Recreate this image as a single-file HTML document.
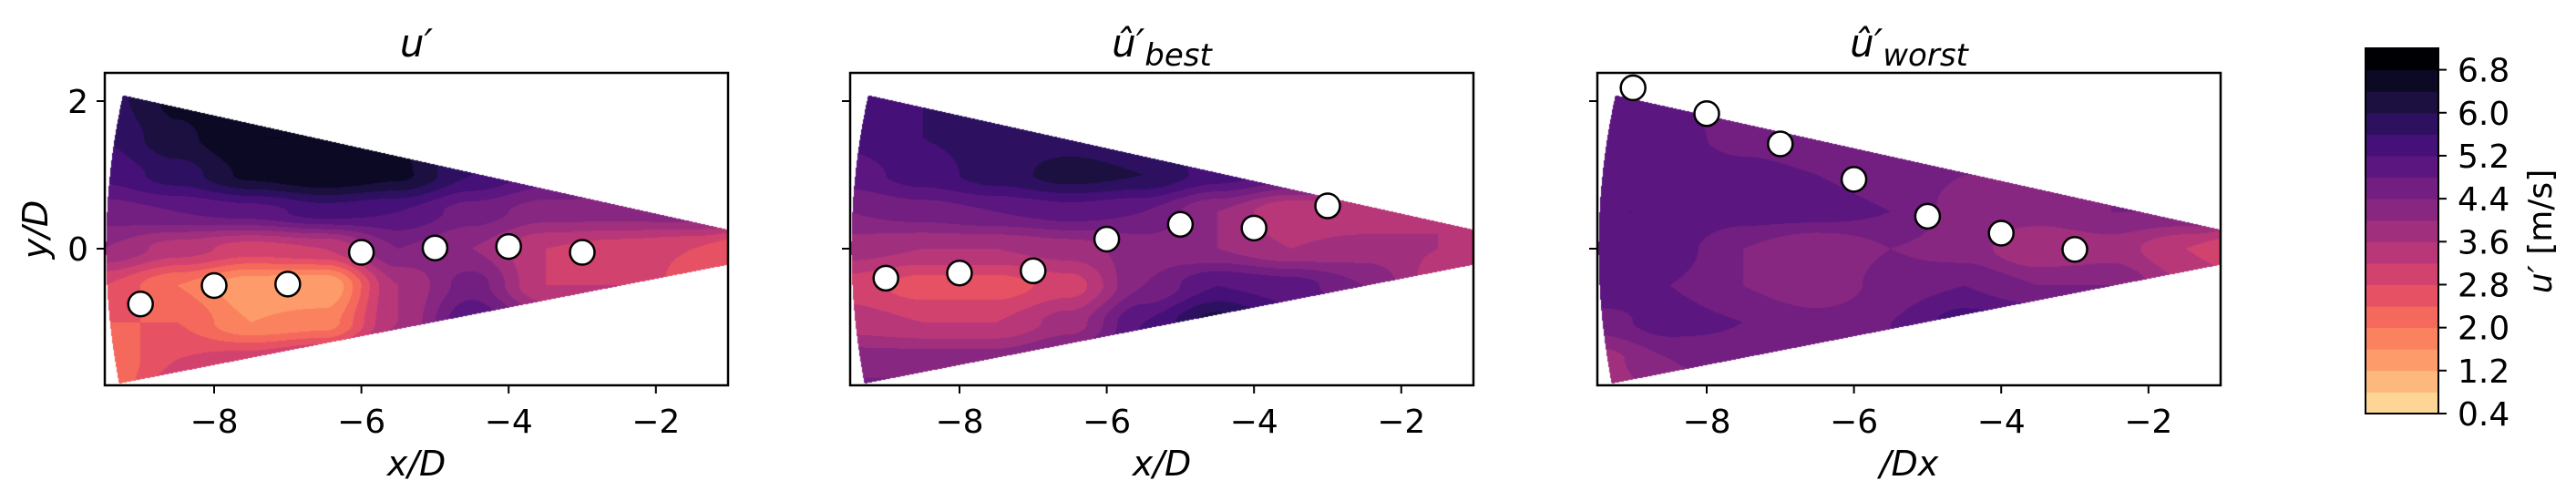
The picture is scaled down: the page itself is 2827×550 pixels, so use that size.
<!DOCTYPE html>
<html><head><meta charset="utf-8"><style>
body{margin:0;background:#fff;}
#root{position:relative;width:2827px;height:550px;overflow:hidden;background:#fff;font-family:"DejaVu Sans","Liberation Sans",sans-serif;}
canvas{position:absolute;}
svg{position:absolute;left:0;top:0;}
</style></head><body>
<div id="root">
<svg id="svg" width="2827" height="550"></svg>
</div>
<script>
// ---- data ----
const gridX = [-9.5,-8.5,-7.5,-6.5,-5.5,-4.5,-3.5,-2.5,-1.5,-0.5];
const gridY = [2,1.5,1,0.5,0,-0.5,-1,-1.5,-2];
const fieldTrue = [
[5.8,6.5,6.8,6.6,6.0,5.5,5,5,5,5],
[5.6,6.3,6.8,6.8,6.4,5.6,5.2,5,5,5],
[5.3,5.8,6.5,6.8,6.5,5.6,5.0,4.8,4.6,4.5],
[4.6,4.8,5.0,5.4,5.2,4.6,4.2,4.2,4.3,4.2],
[4.0,3.4,3.0,3.2,4.4,4.0,3.2,3.0,2.8,2.2],
[2.8,2.0,1.3,1.2,3.6,4.6,3.2,3.2,2.6,2.5],
[2.4,2.4,1.6,1.8,3.6,5.2,4.2,3.8,3.5,3.4],
[2.0,2.8,3.0,3.4,4.2,6.8,5,4.5,4,4],
[2.0,3.2,3.5,3.8,4.4,6,5,5,5,5]];
const fieldBest = [
[5.4,5.6,5.6,5.6,5.4,5.3,5,5,5,5],
[5.3,5.6,5.8,5.8,5.6,5.3,5,5,5,5],
[5.0,5.4,5.8,6.2,6.0,5.4,5.0,4.8,4.6,4.6],
[4.4,4.6,4.8,5.0,4.8,4.0,3.2,3.2,3.6,3.6],
[3.8,3.6,3.6,3.8,4.2,4.0,3.6,3.8,3.6,3.4],
[3.0,2.6,2.6,3.0,4.4,5.2,5.0,4.4,3.4,3.2],
[3.4,3.2,3.2,3.8,5.2,6.2,5.4,5,5,5],
[4.2,4.2,4.2,4.6,5.4,5.6,5.4,5,5,5],
[4.6,4.6,4.6,4.8,5.2,5.4,5.4,5,5,5]];
const fieldWorst = [
[5.0,4.8,4.6,4.4,4.4,4.4,4.4,4.4,4.4,4.4],
[5.0,5.0,4.6,4.4,4.4,4.4,4.4,4.4,4.4,4.4],
[5.1,5.2,5.0,4.8,4.6,4.4,4.4,4.4,4.4,4.4],
[5.2,5.2,5.0,5.0,4.8,4.2,4.2,4.4,4.4,4.4],
[5.2,5.0,4.4,4.0,4.4,4.2,3.6,3.8,3.2,2.6],
[5.2,4.8,4.4,4.0,4.6,4.8,4.4,4.4,3.6,3.2],
[4.6,5.0,4.8,4.6,4.8,5.4,5.2,5,5,5],
[3.8,4.4,4.6,4.6,4.8,5.2,5,5,5,5],
[3.6,4.2,4.6,4.6,4.8,5,5,5,5,5]];
const sensorX = [-9,-8,-7,-6,-5,-4,-3];
const sensorYTrue = [-0.75,-0.5,-0.48,-0.05,0.01,0.03,-0.05];
const sensorYBest = [-0.40,-0.33,-0.30,0.13,0.33,0.28,0.58];
const sensorYWorst = [2.18,1.83,1.42,0.94,0.44,0.21,-0.01];
const xTicks = [-8,-6,-4,-2];
const yTicks = [2,0];
const cbTicks = [0.4,1.2,2.0,2.8,3.6,4.4,5.2,6.0,6.8];
const levels = [0.4,0.8,1.2,1.6,2.0,2.4,2.8,3.2,3.6,4.0,4.4,4.8,5.2,5.6,6.0,6.4,6.8,7.2];
const bandColors = ['#fdd597','#fdb97d','#fd9b6a','#fb825f','#f4695c','#e65164','#d1426f','#b73779','#a0307e','#872781','#721f81','#5c167f','#451077','#2d1160','#1b1040','#0b0924','#000004'];

// ---- layout ----
const NS='http://www.w3.org/2000/svg';
const svg=document.getElementById('svg');
const root=document.getElementById('root');
const offsets=[0,818,1638];
const axTop=80, axBot=423, axL=115, axW=684;
function sx(x,o){return 235+80.8*(x+8)+o;}
function sy(y){return 273-81*y;}
function mk(tag,attrs,parent){const e=document.createElementNS(NS,tag);for(const k in attrs)e.setAttribute(k,attrs[k]);(parent||svg).appendChild(e);return e;}
function hex(c){return [parseInt(c.slice(1,3),16),parseInt(c.slice(3,5),16),parseInt(c.slice(5,7),16)];}
const rgb=bandColors.map(hex);
function interp(F,x,y){
  let fi=(x-gridX[0])/(gridX[1]-gridX[0]); let fj=(gridY[0]-y)/(gridY[0]-gridY[1]);
  fi=Math.max(0,Math.min(gridX.length-1.0001,fi)); fj=Math.max(0,Math.min(gridY.length-1.0001,fj));
  const i=Math.floor(fi),j=Math.floor(fj),a=fi-i,b=fj-j;
  const sa=a*a*(3-2*a), sb=b*b*(3-2*b);
  return (F[j][i]*(1-sa)+F[j][i+1]*sa)*(1-sb)+(F[j+1][i]*(1-sa)+F[j+1][i+1]*sa)*sb;
}
const ax0=0.123, ay0=0.004, R=9.59;
function inside(x,y){
  if(x>=ax0)return false;
  const top=0.26-0.2217*(x+1.03), bot=-0.22+0.1947*(x+1.03);
  if(y>top||y<bot)return false;
  const dx=ax0-x,dy=y-ay0;return dx*dx+dy*dy<=R*R;}

const panels=[
 {F:fieldTrue,S:sensorYTrue,title:'u′',sub:'',xl:'x/D',name:'true'},
 {F:fieldBest,S:sensorYBest,title:'û′',sub:'best',xl:'x/D',name:'best'},
 {F:fieldWorst,S:sensorYWorst,title:'û′',sub:'worst',xl:'/Dx',name:'worst'}];

panels.forEach((p,k)=>{
  const o=offsets[k];
  const cv=document.createElement('canvas');
  cv.width=axW;cv.height=axBot-axTop;
  cv.style.left=(axL+o)+'px';cv.style.top=axTop+'px';
  
  
  root.insertBefore(cv,svg);
  const ctx=cv.getContext('2d');const img=ctx.createImageData(cv.width,cv.height);
  for(let py=0;py<cv.height;py++)for(let px=0;px<cv.width;px++){
    const x=(axL+px+0.5-235)/80.8-8, y=(273-(axTop+py+0.5))/81;
    const idx=(py*cv.width+px)*4;
    if(!inside(x,y)){img.data[idx+3]=0;continue;}
    const v=interp(p.F,x,y);
    let b=Math.floor((v-levels[0])/0.4);b=Math.max(0,Math.min(16,b));
    const c=rgb[b];img.data[idx]=c[0];img.data[idx+1]=c[1];img.data[idx+2]=c[2];img.data[idx+3]=255;
  }
  ctx.putImageData(img,0,0);
  const g=mk('g',{});
  
  
  sensorX.forEach((sxv,i)=>{
    const c=mk('circle',{cx:sx(sxv,o),cy:sy(p.S[i]),r:13.5,fill:'#fff',stroke:'#000','stroke-width':2.5},g);
    
    
  });
  const fr=mk('rect',{x:axL+o,y:axTop,width:axW,height:axBot-axTop,fill:'none',stroke:'#000','stroke-width':2.5},g);
  
  
  xTicks.forEach(t=>{
    const X=sx(t,o);
    const l=mk('line',{x1:X,x2:X,y1:axBot,y2:axBot+9,stroke:'#000','stroke-width':2},g);
    
    
    const tx=mk('text',{x:X,y:475,'font-size':36,'text-anchor':'middle',fill:'#000'},g);
    tx.textContent='−'+Math.abs(t);
    
    
  });
  yTicks.forEach(t=>{
    const Y=sy(t);
    const l=mk('line',{x1:axL+o-9,x2:axL+o,y1:Y,y2:Y,stroke:'#000','stroke-width':2},g);
    
    
    if(k===0){const tx=mk('text',{x:97,y:Y+13,'font-size':36,'text-anchor':'end',fill:'#000'},g);
      tx.textContent=String(t);
      
      }
  });
  const ti=mk('text',{x:axL+o+axW/2,y:62,'font-size':42,'text-anchor':'middle','font-style':'italic',fill:'#000'},g);
  ti.innerHTML=p.title+(p.sub?'<tspan font-size="34" dy="10">'+p.sub+'</tspan>':'');
  
  
  const xl=mk('text',{x:axL+o+axW/2,y:522,'font-size':38,'text-anchor':'middle','font-style':'italic',fill:'#000'},g);
  xl.textContent=p.xl;
  
  
});
const yl=mk('text',{x:0,y:0,'font-size':38,'text-anchor':'middle','font-style':'italic',fill:'#000',transform:'translate(52,252) rotate(-90)'});
yl.textContent='y/D';



// colorbar
const cbL=2596,cbW=80,cbTop=53,cbBot=454;
function cy(v){return cbBot-(v-0.4)/(7.2-0.4)*(cbBot-cbTop);}
const cbg=mk('g',{});


bandColors.forEach((c,i)=>{
  const r=mk('rect',{x:cbL,y:cy(levels[i+1]),width:cbW,height:cy(levels[i])-cy(levels[i+1])+0.5,fill:c},cbg);
  
  
});
const cbf=mk('rect',{x:cbL,y:cbTop,width:cbW,height:cbBot-cbTop,fill:'none',stroke:'#000','stroke-width':2},cbg);


cbTicks.forEach(t=>{
  const Y=cy(t);
  const l=mk('line',{x1:cbL+cbW,x2:cbL+cbW+9,y1:Y,y2:Y,stroke:'#000','stroke-width':2},cbg);
  
  
  const tx=mk('text',{x:2697,y:Y+13,'font-size':36,fill:'#000'},cbg);
  tx.textContent=t.toFixed(1);
  
  
});
const cl=mk('text',{x:0,y:0,'font-size':36,'text-anchor':'middle',fill:'#000',transform:'translate(2800,254) rotate(-90)'},cbg);
cl.innerHTML='<tspan font-style="italic">u′</tspan> [m/s]';


</script>
</body></html>
